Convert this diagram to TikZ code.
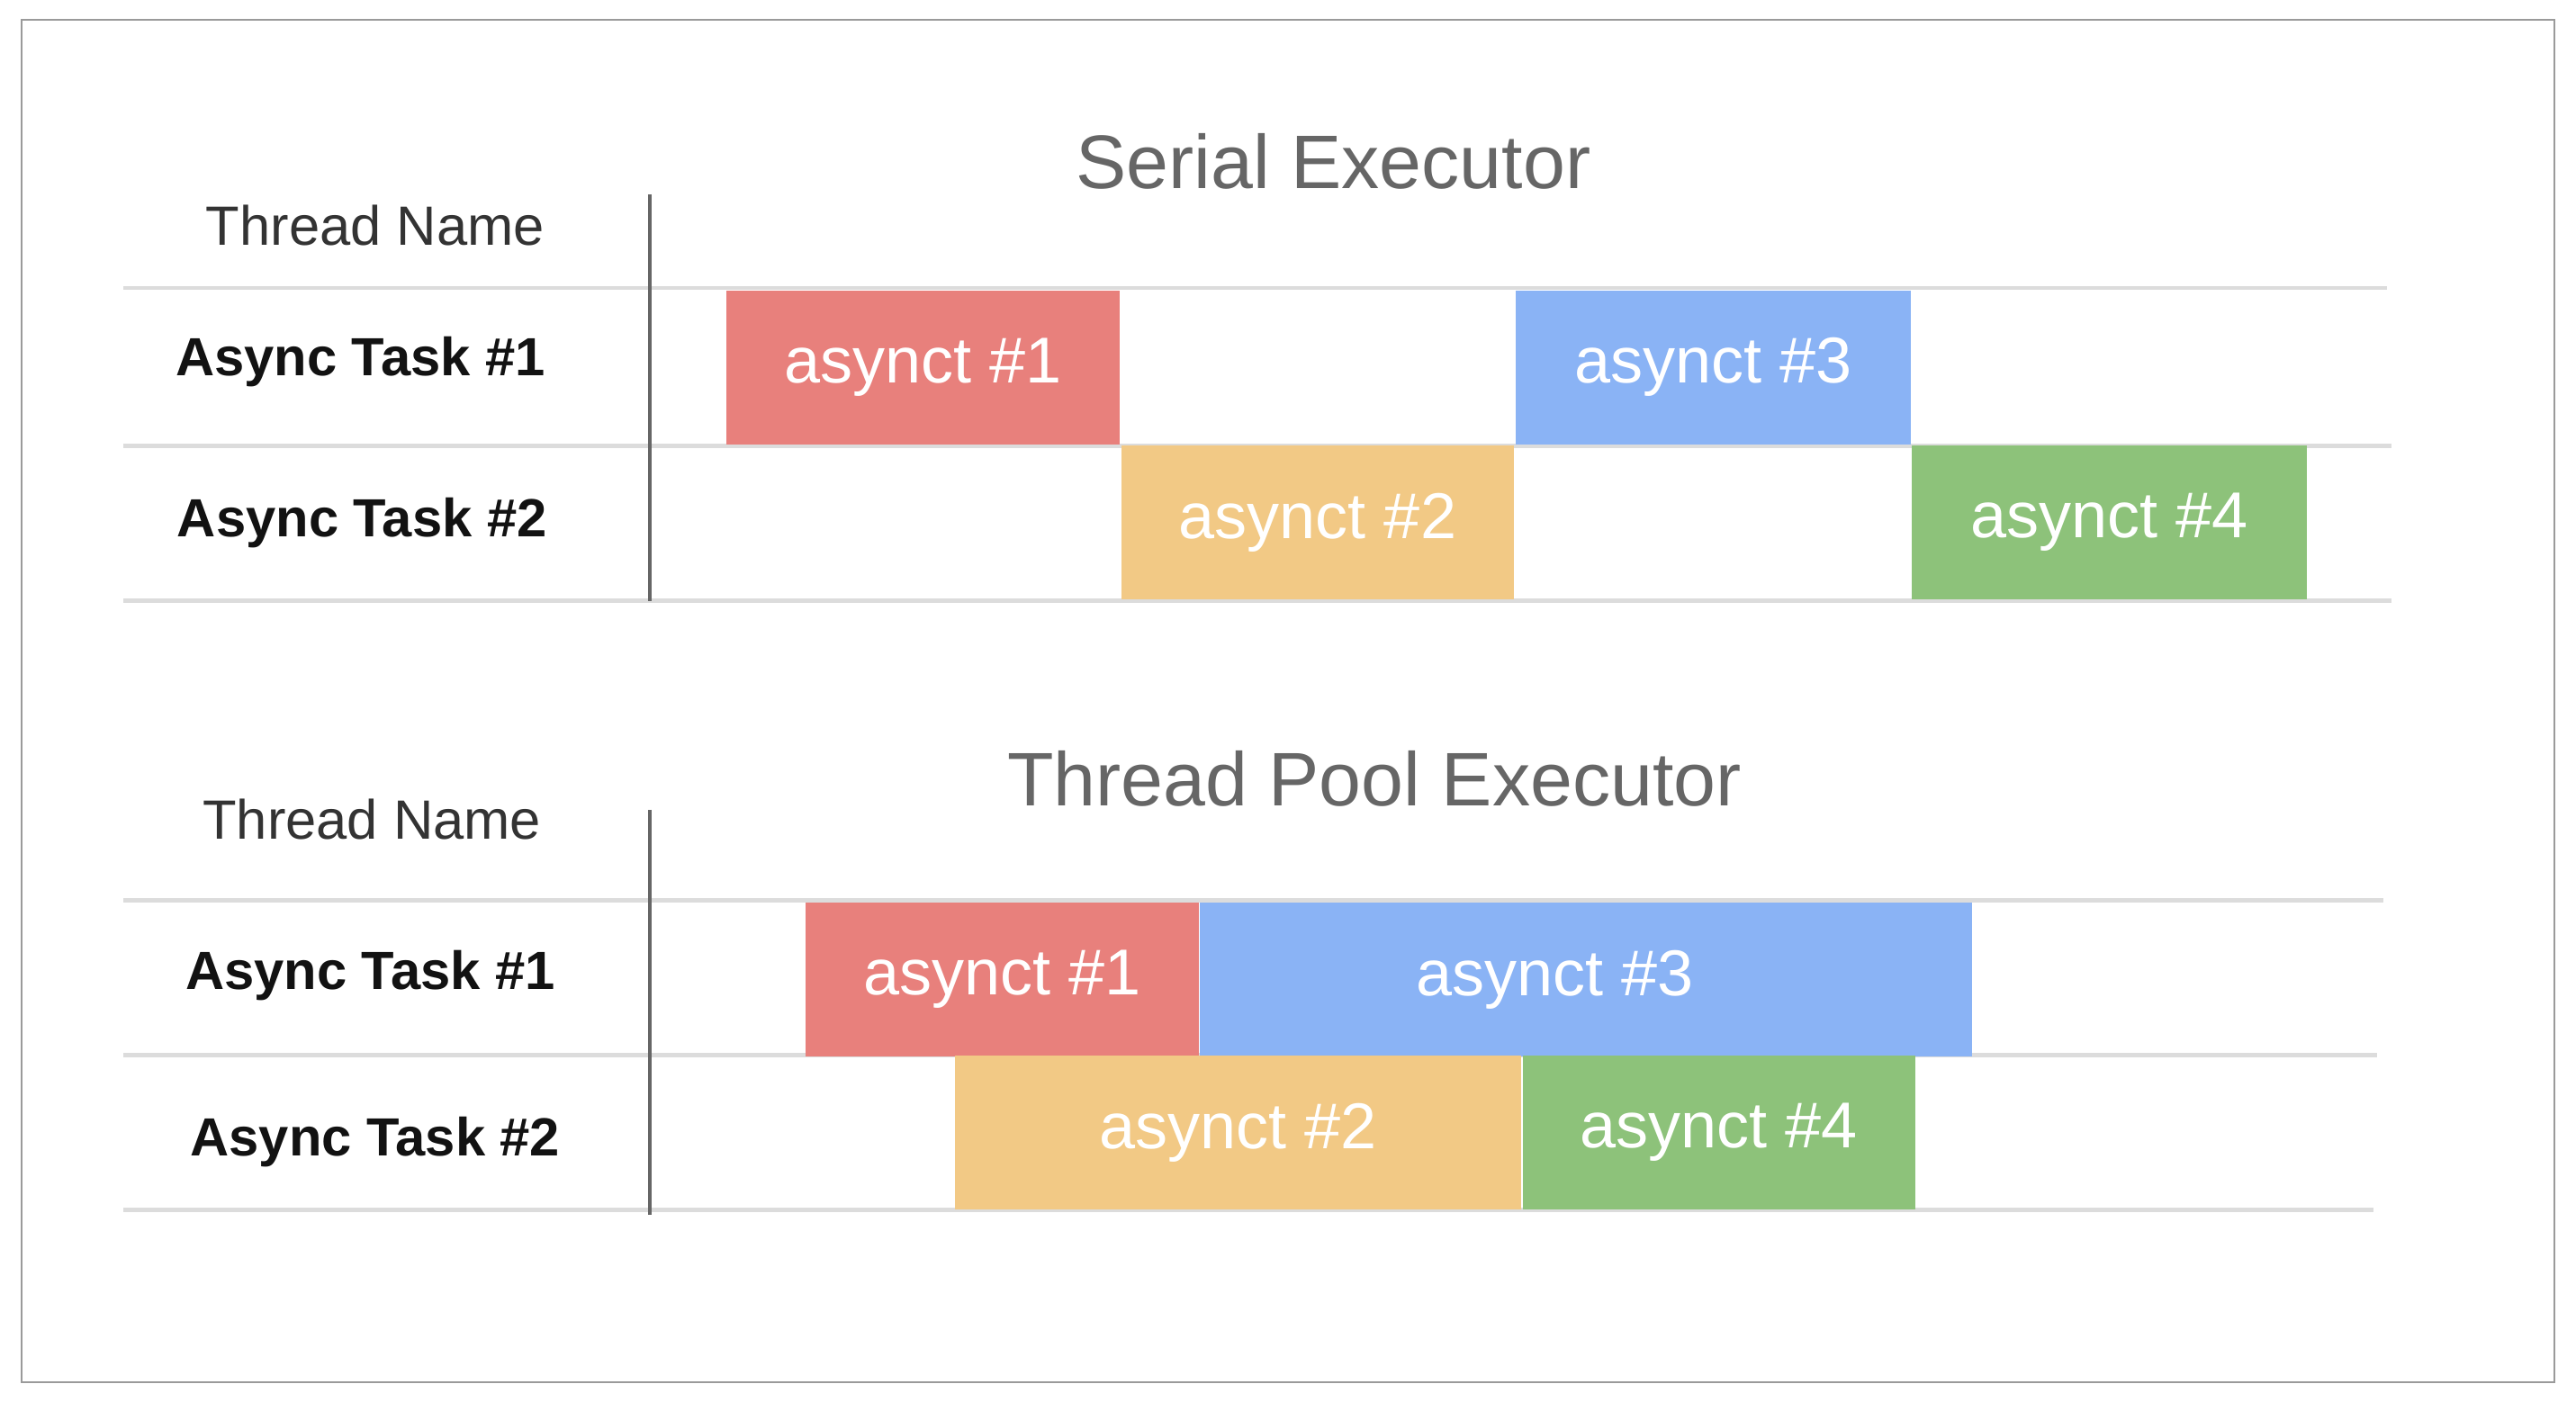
\documentclass[tikz,border=0pt]{standalone}
\usepackage{fontspec}
\setmainfont{Liberation Sans}
\usepackage{tikz}
\usetikzlibrary{positioning}

\definecolor{barred}{HTML}{E8807C}
\definecolor{barblue}{HTML}{8AB3F5}
\definecolor{barorange}{HTML}{F2C985}
\definecolor{bargreen}{HTML}{8DC27A}
\definecolor{rulegray}{HTML}{DCDCDC}
\definecolor{framegray}{HTML}{9A9A9A}

\begin{document}
\begin{tikzpicture}[x=0.1829mm, y=-0.1829mm, node distance={0pt},
	bar/.style = {fill=#1, inner sep=0pt, minimum height=17.1mm, text=white, font=\fontsize{20.5}{24}\selectfont},
	title/.style = {text=black!60, font=\fontsize{24}{28}\selectfont},
	head/.style = {text=black!80, font=\fontsize{17.5}{20}\selectfont},
	task/.style = {text=black!93, font=\bfseries\fontsize{17}{20}\selectfont},
	rule/.style = {rulegray, line width=1.4pt},
	axis/.style = {black!60, line width=1.1pt}]
			\useasboundingbox (0,0) rectangle (1565,857);
			\draw[framegray, line width=0.6pt] (13,12) rectangle (1552,840);
			
			% serial executor
			\node[title] (t1) at (810,98) {Serial Executor};
			\node[head] (h1) at (228,137) {Thread Name};
			\node[task] (r1) at (219,220) {Async Task \#1};
			\node[task] (r2) at (220,318) {Async Task \#2};
			\draw[rule] (75,175) -- (1450,175);
			\draw[rule] (75,271) -- (1453,271);
			\draw[rule] (75,365) -- (1453,365);
			\draw[axis] (395,118) -- (395,365);
			\node[bar=barred, minimum width=43.7mm, anchor=north west] (s1) at (441,176) {asynct \#1};
			\node[bar=barorange, minimum width=43.7mm] (s2) [below right=0pt and 0pt of s1] {asynct \#2};
			\node[bar=barblue, minimum width=43.9mm] (s3) [above right=0pt and 0pt of s2] {asynct \#3};
			\node[bar=bargreen, minimum width=43.9mm] (s4) [below right=0pt and 0pt of s3] {asynct \#4};
			
			% thread pool executor
			\node[title] (t2) at (835,473) {Thread Pool Executor};
			\node[head] (h2) at (226,498) {Thread Name};
			\node[task] (q1) at (225,593) {Async Task \#1};
			\node[task] (q2) at (228,694) {Async Task \#2};
			\draw[rule] (75,547) -- (1448,547);
			\draw[rule] (75,641) -- (1444,641);
			\draw[rule] (75,735) -- (1442,735);
			\draw[axis] (395,492) -- (395,738);
			\node[bar=barred, minimum width=43.7mm, anchor=north west] (p1) at (489,548) {asynct \#1};
			\node[bar=barblue, minimum width=85.8mm] (p3) [right=of p1] {asynct \#3\hspace*{7mm}};
			\node[bar=barorange, minimum width=62.9mm, anchor=north west] (p2) at (580,641) {asynct \#2};
			\node[bar=bargreen, minimum width=43.6mm] (p4) [right=of p2] {asynct \#4};
		\end{tikzpicture}
\end{document}
